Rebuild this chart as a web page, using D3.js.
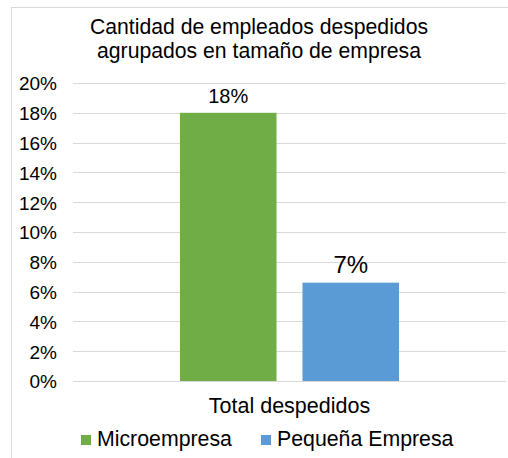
<!DOCTYPE html>
<html><head><meta charset="utf-8">
<script src="https://cdn.jsdelivr.net/npm/d3@7"></script>
<style>body{margin:0;background:#fff}svg{display:block}text{font-family:"Liberation Sans",Arial,sans-serif;fill:#000}</style>
</head><body>
<script>
const titleLines = ["Cantidad de empleados despedidos", "agrupados en tamaño de empresa"];
const category = ["Total despedidos"];
const seriesNames = ["Microempresa", "Pequeña Empresa"];
const seriesValues = [0.18, 0.066];
const seriesLabels = ["18%", "7%"];
const seriesColors = ["#70AD47", "#5B9BD5"];
const yTicks = [0, 0.02, 0.04, 0.06, 0.08, 0.10, 0.12, 0.14, 0.16, 0.18, 0.20];

const W = 508, H = 458;
const svg = d3.select("body").append("svg").attr("width", W).attr("height", H);

// chart frame
svg.append("rect").attr("x", 11.5).attr("y", 7.5).attr("width", 600).attr("height", 600)
  .attr("fill", "none").attr("stroke", "#D9D9D9");

svg.selectAll(".title").data(titleLines).enter().append("text")
  .attr("x", 259).attr("y", (d, i) => 34 + i * 23.5)
  .attr("text-anchor", "middle").attr("font-size", 21.2).text(d => d);

const x0 = d3.scaleBand().domain(category).range([73, 506]);
const x1 = d3.scaleBand().domain(seriesNames).range([0, x0.bandwidth()]).paddingInner(0.212).paddingOuter(0.873);
const y = d3.scaleLinear().domain([0, 0.20]).range([381, 83]);

// gridlines
svg.append("g").selectAll("line").data(yTicks).enter().append("line")
  .attr("x1", 73).attr("x2", 506)
  .attr("y1", d => Math.round(y(d)) + 0.5).attr("y2", d => Math.round(y(d)) + 0.5)
  .attr("stroke", "#D9D9D9");

// y axis labels
const yAxis = d3.axisLeft(y).tickValues(yTicks).tickFormat(d3.format(".0%")).tickSize(0).tickPadding(0);
const ga = svg.append("g").attr("transform", "translate(57,0)").call(yAxis);
ga.select(".domain").remove();
ga.selectAll("text").attr("font-size", 19).attr("fill", "#000").attr("dy", "0.36em")
  .style("font-family", '"Liberation Sans",Arial,sans-serif');

// bars
const g = svg.append("g").attr("transform", `translate(${x0(category[0])},0)`);
g.selectAll("rect").data(seriesValues).enter().append("rect")
  .attr("x", (d, i) => x1(seriesNames[i])).attr("width", x1.bandwidth())
  .attr("y", d => y(d)).attr("height", d => y(0) - y(d))
  .attr("fill", (d, i) => seriesColors[i]);

// data labels
const labelSizes = [20, 24];
g.selectAll(".lbl").data(seriesValues).enter().append("text")
  .attr("x", (d, i) => x1(seriesNames[i]) + x1.bandwidth() / 2)
  .attr("y", d => y(d) - 9.5)
  .attr("text-anchor", "middle").attr("font-size", (d, i) => labelSizes[i])
  .text((d, i) => seriesLabels[i]);

// category label
svg.append("text").attr("x", x0(category[0]) + x0.bandwidth() / 2).attr("y", 413)
  .attr("text-anchor", "middle").attr("font-size", 21.5).text(category[0]);

// legend
const legX = [81, 261];
const lg = svg.append("g");
seriesNames.forEach((n, i) => {
  lg.append("rect").attr("x", legX[i]).attr("y", 435).attr("width", 10).attr("height", 10).attr("fill", seriesColors[i]);
  lg.append("text").attr("x", legX[i] + 16).attr("y", 446).attr("font-size", 21.3).text(n);
});
</script>
</body></html>
